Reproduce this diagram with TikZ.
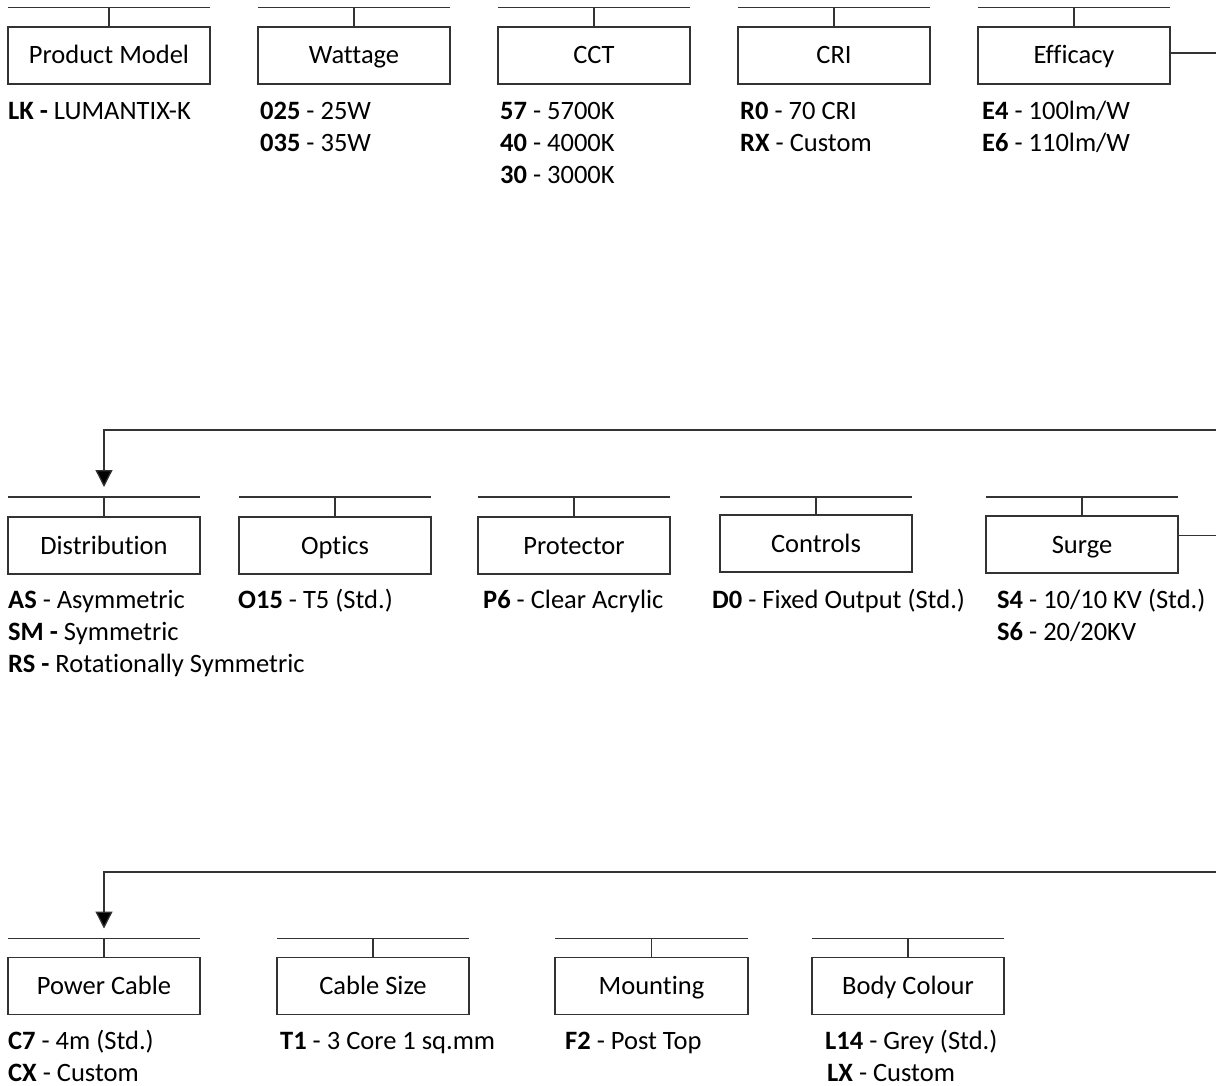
\documentclass[tikz,border=0pt]{standalone}
\usepackage{fontspec}
\setmainfont{Carlito}[Ligatures=NoCommon]
\usetikzlibrary{arrows.meta}
\tikzset{
  x=1pt, y=-1pt,
  ln/.style={draw=black!80, line width=1.3pt},
  boxst/.style={ln, rectangle, inner sep=0pt, minimum width=192pt, minimum height=57pt,
    text height=17pt, text depth=0pt, font=\fontsize{26.5pt}{32pt}\selectfont},
  opt/.style={anchor=base west, inner sep=0pt, font=\fontsize{26.5pt}{32pt}\selectfont},
  arr/.style={ln, -{Triangle[width=17pt,length=17pt,fill=black]}}
}
\newcommand{\blk}[6]{% name, xleft, xright, linetop y, boxtop y, label
  \node[boxst, minimum width={#3-#2}] (#1) at ({(#2+#3)/2},{#5+28.5}) {#6};
  \coordinate (#1L) at (#2,#4);
  \coordinate (#1R) at (#3,#4);
  \coordinate (#1T) at ({(#2+#3)/2},#4);
  \draw[ln] (#1L) -- (#1R);
  \draw[ln] (#1T) -- (#1.north);
}
\begin{document}
\begin{tikzpicture}
\useasboundingbox (0,0) rectangle (1216,1086);
% Row 1
\blk{pm}{8}{210}{7.5}{27}{Product Model}
\blk{wt}{258}{450}{7.5}{27}{Wattage}
\blk{cct}{498}{690}{7.5}{27}{CCT}
\blk{cri}{738}{930}{7.5}{27}{CRI}
\blk{eff}{978}{1170}{7.5}{27}{Efficacy}
\coordinate (e1) at (1216,53);
\draw[ln] (eff.east |- e1) -- (e1);

\node[opt] (t1a) at (8,119.5) {\textbf{LK -} LUMANTIX-K};
\node[opt] (t2a) at (260,119.5) {\textbf{025} - 25W};
\node[opt] (t2b) at (260,151.5) {\textbf{035} - 35W};
\node[opt] (t3a) at (500,119.5) {\textbf{57} - 5700K};
\node[opt] (t3b) at (500,151.5) {\textbf{40} - 4000K};
\node[opt] (t3c) at (500,184) {\textbf{30} - 3000K};
\node[opt] (t4a) at (740,119.5) {\textbf{R0} - 70 CRI};
\node[opt] (t4b) at (740,151.5) {\textbf{RX} - Custom};
\node[opt] (t5a) at (982,119.5) {\textbf{E4} - 100lm/W};
\node[opt] (t5b) at (982,151.5) {\textbf{E6} - 110lm/W};

% Row 2
\blk{dist}{8}{200}{497}{517}{Distribution}
\blk{opti}{239}{431}{497}{517}{Optics}
\blk{prot}{478}{670}{497}{517}{Protector}
\blk{ctrl}{720}{912}{497}{515}{Controls}
\blk{surg}{986}{1178}{497}{516}{Surge}
\coordinate (c2) at (1216,430);
\draw[arr, shorten >=10pt] (c2) -| (distT);
\coordinate (s1) at (1216,535.5);
\draw[ln] (surg.east |- s1) -- (s1);

\node[opt] (d1) at (8,608) {\textbf{AS} - Asymmetric};
\node[opt] (d2) at (8,640) {\textbf{SM -} Symmetric};
\node[opt] (d3) at (8,672) {\textbf{RS -} Rotationally Symmetric};
\node[opt] (o1) at (238,608) {\textbf{O15} - T5 (Std.)};
\node[opt] (p1) at (483,608) {\textbf{P6} - Clear Acrylic};
\node[opt] (k1) at (712,608) {\textbf{D0} - Fixed Output (Std.)};
\node[opt] (g1) at (997,608) {\textbf{S4} - 10/10 KV (Std.)};
\node[opt] (g2) at (997,640) {\textbf{S6} - 20/20KV};

% Row 3
\blk{pc}{8}{200}{938.5}{957.5}{Power Cable}
\blk{cs}{277}{469}{938.5}{957.5}{Cable Size}
\blk{mt}{555}{748}{938.5}{957.5}{Mounting}
\blk{bc}{812}{1004}{938.5}{957.5}{Body Colour}
\coordinate (c3) at (1216,872);
\draw[arr, shorten >=10pt] (c3) -| (pcT);

\node[opt] (r1) at (8,1049) {\textbf{C7} - 4m (Std.)};
\node[opt] (r2) at (8,1081.5) {\textbf{CX} - Custom};
\node[opt] (r3) at (280,1049) {\textbf{T1} - 3 Core 1 sq.mm};
\node[opt] (r4) at (565,1049) {\textbf{F2} - Post Top};
\node[opt] (r5) at (825,1049) {\textbf{L14} - Grey (Std.)};
\node[opt] (r6) at (827,1081.5) {\textbf{LX} - Custom};
\end{tikzpicture}
\end{document}
